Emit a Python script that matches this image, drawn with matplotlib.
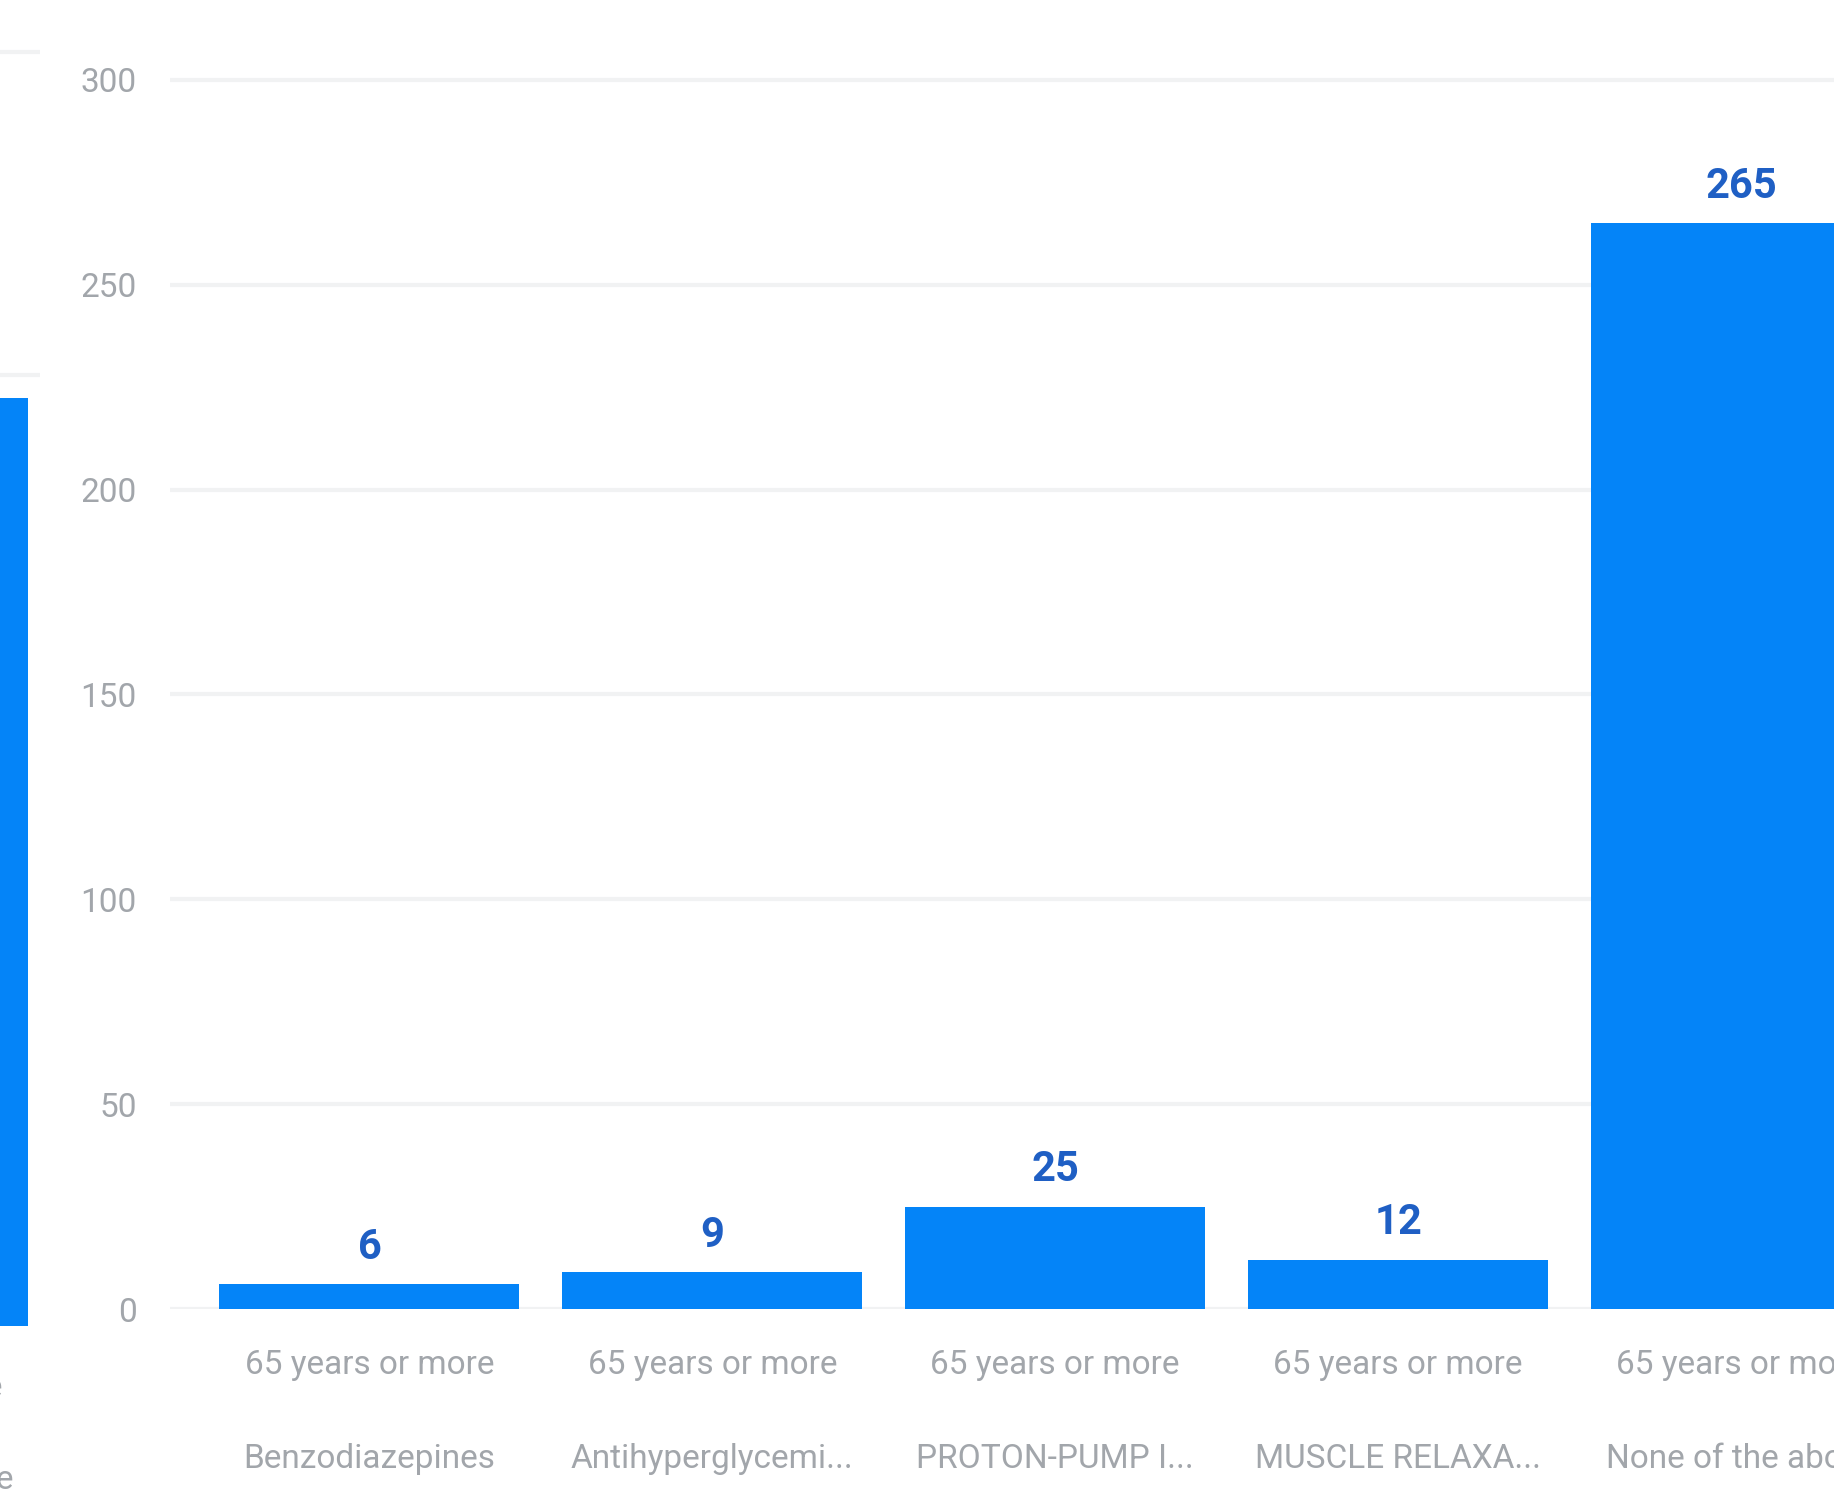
import matplotlib
matplotlib.use("Agg")
import matplotlib.pyplot as plt

plt.rcParams['font.family'] = ['Roboto', 'DejaVu Sans']

# main panel data
grupos = ["65 years or more"] * 5
medicamentos = ["Benzodiazepines", "Antihyperglycemi...", "PROTON-PUMP I...",
                "MUSCLE RELAXA...", "None of the above"]
valores = [6, 9, 25, 12, 265]
yticks = [0, 50, 100, 150, 200, 250, 300]

# neighbouring panel (cut off at left edge)
grupo_esq = ["65 years or more"]
medic_esq = ["None of the above"]
valores_esq = [287]
grid_esq = [294, 394]

azul = "#0484f8"
azul_texto = "#1f5fc4"
cinza = "#a2a6ab"
cor_grade = "#f1f2f3"

W, H = 1834, 1506
fig = plt.figure(figsize=(W / 100, H / 100), dpi=100)

# ---- main axes ----
ax = fig.add_axes([170 / W, 197 / H, (W - 170) / W, 1270 / H])
x = list(range(len(valores)))
ax.bar(x, valores, width=0.875, color=azul, zorder=3)
ax.set_xlim(-0.5818, 4.2712)
ax.set_ylim(0, 310)
ax.set_yticks(yticks)
ax.set_yticklabels([str(t) for t in yticks], fontsize=24, color=cinza)
ax.tick_params(axis='y', length=0, pad=24)
ax.set_xticks([])
ax.grid(axis='y', color=cor_grade, linewidth=3, zorder=0)
for s in ax.spines.values():
    s.set_visible(False)

for i, v in enumerate(valores):
    ax.annotate(str(v), xy=(i, v), xytext=(0, 26.6), textcoords='offset points',
                ha='center', va='center', fontsize=30, fontweight='bold',
                color=azul_texto, annotation_clip=False)
    ax.annotate(grupos[i], xy=(i, 0), xytext=(0, -40.3), textcoords='offset points',
                ha='center', va='center', fontsize=24, color=cinza,
                annotation_clip=False)
    ax.annotate(medicamentos[i], xy=(i, 0), xytext=(0, -108), textcoords='offset points',
                ha='center', va='center', fontsize=24, color=cinza,
                annotation_clip=False)

# ---- left neighbour panel ----
ax2 = fig.add_axes([-360 / W, 180 / H, 400 / W, 1326 / H])
ax2.bar([0], valores_esq, width=0.875, color=azul, zorder=3)
ax2.set_xlim(-0.6947, 0.4724)
ax2.set_ylim(0, 410)
ax2.set_yticks(grid_esq)
ax2.set_yticklabels([])
ax2.tick_params(length=0)
ax2.set_xticks([])
ax2.grid(axis='y', color=cor_grade, linewidth=3, zorder=0)
ax2.patch.set_alpha(0)
for s in ax2.spines.values():
    s.set_visible(False)
ax2.annotate(grupo_esq[0], xy=(0, 0), xytext=(0, -44.6), textcoords='offset points',
             ha='center', va='center', fontsize=24, color=cinza, annotation_clip=False)
ax2.annotate(medic_esq[0], xy=(0, 0), xytext=(0, -111), textcoords='offset points',
             ha='center', va='center', fontsize=24, color=cinza, annotation_clip=False)

fig.savefig("out.png", dpi=100)
